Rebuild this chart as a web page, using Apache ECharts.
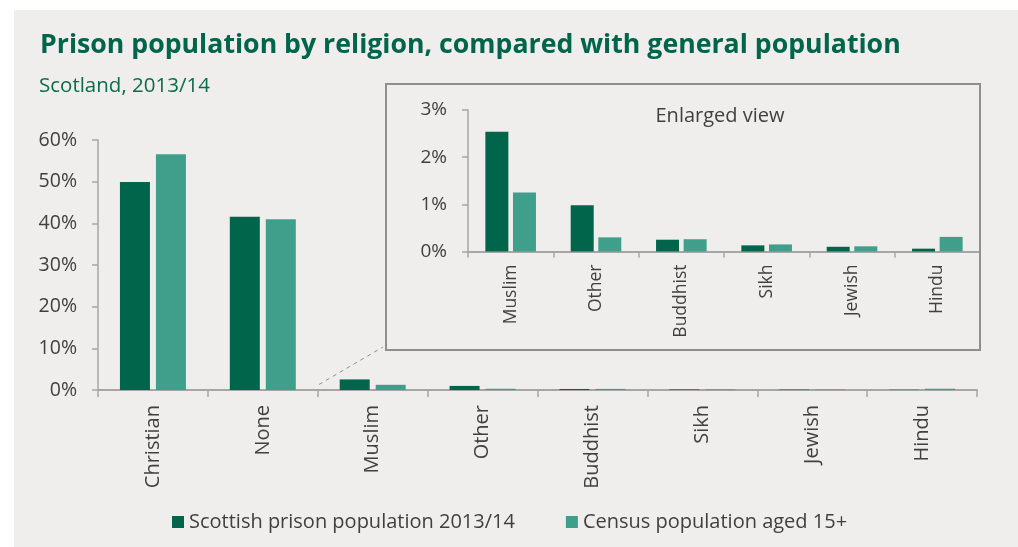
<!DOCTYPE html>
<html>
<head>
<meta charset="utf-8">
<script src="https://cdn.jsdelivr.net/npm/echarts@6/dist/echarts.min.js"></script>
<style>
  html, body { margin: 0; padding: 0; background: #ffffff; }
  #bg { position: absolute; left: 14px; top: 10px; width: 1004px; height: 537px; background: #efeeec; }
  #chart { position: absolute; left: 0; top: 0; width: 1018px; height: 547px; }
</style>
</head>
<body>
<div id="bg"></div>
<div id="chart"></div>
<script>
const categories = ['Christian', 'None', 'Muslim', 'Other', 'Buddhist', 'Sikh', 'Jewish', 'Hindu'];
const insetCategories = categories.slice(2);
const prisonValues = [49.9, 41.6, 2.54, 0.98, 0.25, 0.13, 0.10, 0.06];
const censusValues = [56.6, 41.0, 1.25, 0.30, 0.26, 0.15, 0.11, 0.31];
const seriesNames = ['Scottish prison population 2013/14', 'Census population aged 15+'];
const mainAxis = { min: 0, max: 60, interval: 10 };
const insetAxis = { min: 0, max: 3, interval: 1 };

const DARK = '#00654a';
const LIGHT = '#409f8a';
const GREY = '#a6a6a6';
const TEXT = '#404040';
const FONT = '"Open Sans", "Noto Sans", sans-serif';

const chart = echarts.init(document.getElementById('chart'), null, { renderer: 'canvas' });

const option = {
  backgroundColor: 'transparent',
  textStyle: { fontFamily: FONT },
  title: [
    {
      text: 'Prison population by religion, compared with general population',
      left: 35, top: 27,
      textStyle: { fontFamily: FONT, fontSize: 26.7, fontWeight: 'bold', color: '#00654a' }
    },
    {
      text: 'Scotland, 2013/14',
      left: 34, top: 71,
      textStyle: { fontFamily: FONT, fontSize: 20.5, fontWeight: 'normal', color: '#0b6b4c' }
    }
  ],
  legend: {
    left: 167, top: 507,
    itemWidth: 12, itemHeight: 12, itemGap: 51,
    icon: 'rect',
    data: seriesNames,
    textStyle: { fontFamily: FONT, fontSize: 20, color: TEXT }
  },
  grid: [
    { left: 98, right: 41, top: 140, bottom: 157, containLabel: false },
    { left: 468, right: 38, top: 110, bottom: 295.5, containLabel: false }
  ],
  xAxis: [
    {
      type: 'category', gridIndex: 0, data: categories,
      axisLine: { lineStyle: { color: GREY, width: 2 } },
      axisTick: { show: true, length: 7, lineStyle: { color: GREY, width: 1.5 } },
      axisLabel: { rotate: 90, margin: 15, fontSize: 20, color: TEXT, fontFamily: FONT }
    },
    {
      type: 'category', gridIndex: 1, data: insetCategories,
      axisLine: { lineStyle: { color: GREY, width: 2 } },
      axisTick: { show: true, length: 6, lineStyle: { color: GREY, width: 1.5 } },
      axisLabel: { rotate: 90, margin: 13, fontSize: 17.5, color: TEXT, fontFamily: FONT }
    }
  ],
  yAxis: [
    {
      type: 'value', gridIndex: 0, min: mainAxis.min, max: mainAxis.max, interval: mainAxis.interval,
      axisLine: { show: true, lineStyle: { color: GREY, width: 1.5 } },
      axisTick: { show: true, length: 6, lineStyle: { color: GREY, width: 1.5 } },
      splitLine: { show: false },
      axisLabel: { formatter: '{value}%', margin: 21, fontSize: 19.5, color: TEXT, fontFamily: FONT }
    },
    {
      type: 'value', gridIndex: 1, min: insetAxis.min, max: insetAxis.max, interval: insetAxis.interval,
      axisLine: { show: true, lineStyle: { color: GREY, width: 1.5 } },
      axisTick: { show: true, length: 6, lineStyle: { color: GREY, width: 1.5 } },
      splitLine: { show: false },
      axisLabel: { formatter: '{value}%', margin: 21, fontSize: 19, color: TEXT, fontFamily: FONT }
    }
  ],
  series: [
    {
      name: seriesNames[0], type: 'bar', xAxisIndex: 0, yAxisIndex: 0,
      data: prisonValues, barWidth: 30, barGap: '20%',
      itemStyle: { color: DARK }
    },
    {
      name: seriesNames[1], type: 'bar', xAxisIndex: 0, yAxisIndex: 0,
      data: censusValues, barWidth: 30, barGap: '20%',
      itemStyle: { color: LIGHT }
    },
    {
      name: seriesNames[0], type: 'bar', xAxisIndex: 1, yAxisIndex: 1,
      data: prisonValues.slice(2), barWidth: 23, barGap: '20%',
      itemStyle: { color: DARK }
    },
    {
      name: seriesNames[1], type: 'bar', xAxisIndex: 1, yAxisIndex: 1,
      data: censusValues.slice(2), barWidth: 23, barGap: '20%',
      itemStyle: { color: LIGHT }
    }
  ],
  graphic: [
    {
      type: 'rect', silent: true, z: 1,
      shape: { x: 386, y: 84, width: 594, height: 266 },
      style: { fill: 'none', stroke: '#8f8f8f', lineWidth: 2 }
    },
    {
      type: 'line', silent: true, z: 1,
      shape: { x1: 319, y1: 384.5, x2: 383, y2: 347 },
      style: { stroke: '#8f8f8f', lineWidth: 1, lineDash: [4, 4] }
    },
    {
      type: 'text', silent: true, z: 5,
      x: 720, y: 116,
      style: { text: 'Enlarged view', fill: TEXT, font: '20px "Open Sans", sans-serif', align: 'center', verticalAlign: 'middle' }
    }
  ]
};

chart.setOption(option);
</script>
</body>
</html>
